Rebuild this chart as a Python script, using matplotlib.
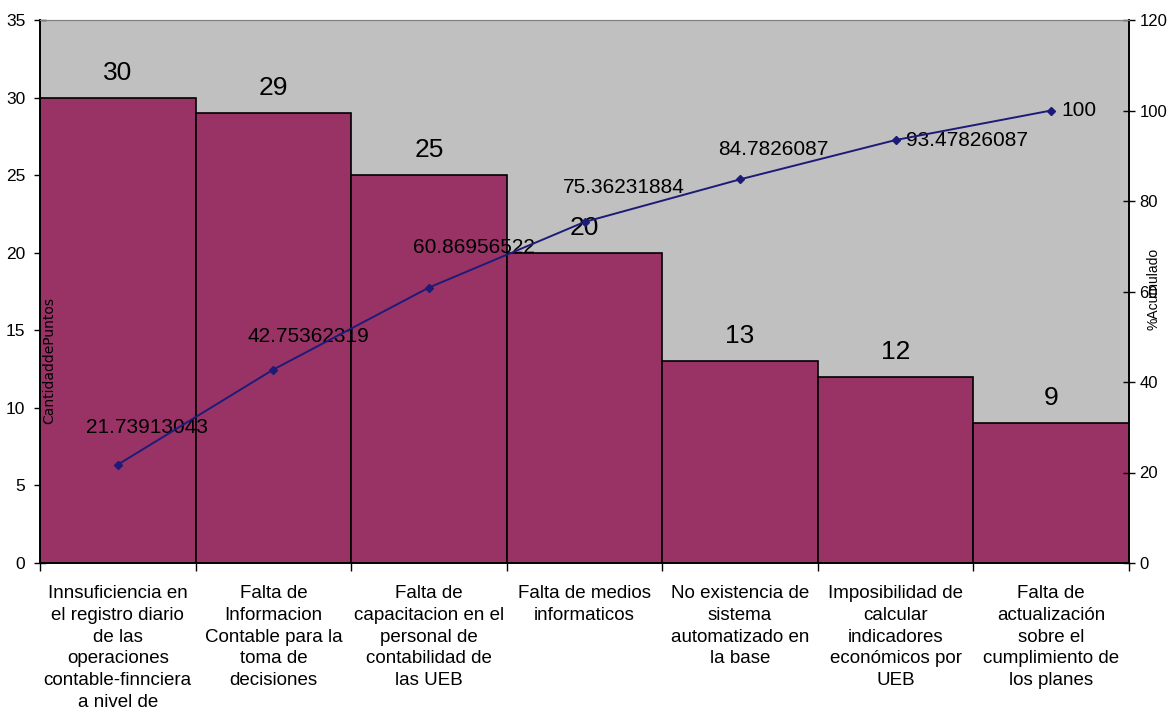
"""Pareto chart: causes vs. points, with cumulative percentage on a second axis."""

import matplotlib as mpl

mpl.use("Agg")
import matplotlib.pyplot as plt

plt.rcParams["font.family"] = ["Liberation Sans", "DejaVu Sans"]

causes = [
    "Innsuficiencia en\nel registro diario\nde las\noperaciones\ncontable-finnciera\na nivel de",
    "Falta de\nInformacion\nContable para la\ntoma de\ndecisiones",
    "Falta de\ncapacitacion en el\npersonal de\ncontabilidad de\nlas UEB",
    "Falta de medios\ninformaticos",
    "No existencia de\nsistema\nautomatizado en\nla base",
    "Imposibilidad de\ncalcular\nindicadores\neconómicos por\nUEB",
    "Falta de\nactualización\nsobre el\ncumplimiento de\nlos planes",
]
points = [30, 29, 25, 20, 13, 12, 9]
cum_pct = [21.73913043, 42.75362319, 60.86956522, 75.36231884, 84.7826087, 93.47826087, 100]

# label offsets for the cumulative line, in pixels (dx, dy) from each marker
cum_offsets = [(29, 37), (35, 33), (45, 40), (39, 34), (33, 30), (71, 0), (28, 0)]

BAR = "#993366"
LINE = "#1c1c78"
BG = "#c0c0c0"

fig = plt.figure(figsize=(11.69, 7.13), dpi=100)
ax = fig.add_axes([40 / 1169, 150 / 713, 1089 / 1169, 543 / 713])
ax.set_facecolor(BG)

x = list(range(len(points)))
ax.bar(x, points, width=1.0, color=BAR, edgecolor="black", linewidth=1.2, zorder=2)
ax.set_xlim(-0.5, len(points) - 0.5)
ax.set_ylim(0, 35)
ax.set_yticks(range(0, 36, 5))

for xi, v in zip(x, points):
    ax.annotate(str(v), (xi, v), xytext=(0, 25), textcoords="offset pixels",
                ha="center", va="center", fontsize=19, zorder=5)

# category boundaries carry the tick marks, names sit under the bar centres
ax.set_xticks([i - 0.5 for i in range(len(points) + 1)])
ax.set_xticklabels([])
ax.set_xticks(x, minor=True)
ax.set_xticklabels(causes, minor=True, fontsize=13.5, linespacing=1.36, va="top")
ax.tick_params(axis="x", which="major", direction="out", length=6, width=1)
ax.tick_params(axis="x", which="minor", length=0, pad=16)
ax.tick_params(axis="y", direction="inout", length=9, width=1, labelsize=12.5, pad=6)

ax2 = ax.twinx()
ax2.set_ylim(0, 120)
ax2.set_yticks(range(0, 121, 20))
ax2.tick_params(axis="y", direction="inout", length=9, width=1, labelsize=12, pad=3)
ax2.plot(x, cum_pct, color=LINE, linewidth=1.4, marker="D", markersize=4, zorder=4)

for xi, v, (dx, dy) in zip(x, cum_pct, cum_offsets):
    ax2.annotate(f"{v:.10g}", (xi, v), xytext=(dx, dy), textcoords="offset pixels",
                 ha="center", va="center", fontsize=15)

for a in (ax, ax2):
    a.spines["top"].set_color("#808080")
    for side in ("left", "right", "bottom"):
        a.spines[side].set_color("black")
        a.spines[side].set_linewidth(1.2)

fig.text(49 / 1169, 1 - 361 / 713, "CantidaddePuntos", rotation=90,
         ha="center", va="center", fontsize=10, family="DejaVu Sans")
fig.text(1153 / 1169, 1 - 289 / 713, "%Acumulado", rotation=90,
         ha="center", va="center", fontsize=10)

fig.savefig("out.png", dpi=100, facecolor="white")
